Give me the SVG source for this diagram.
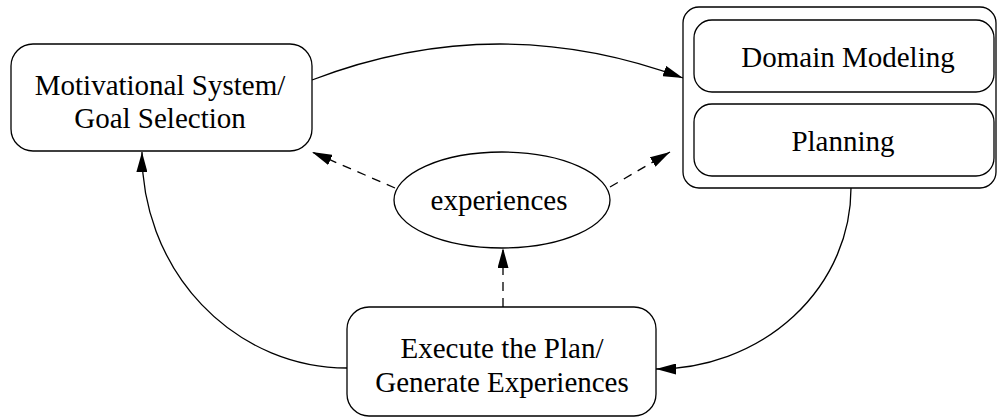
<svg xmlns="http://www.w3.org/2000/svg" width="999" height="419" viewBox="0 0 999 419">
  <style>
    .box { fill: #fff; stroke: #000; stroke-width: 1.3; }
    .lbl { font-family: "Liberation Serif", "Times New Roman", serif; font-size: 29px; fill: #000; text-anchor: middle; }
    .edge { fill: none; stroke: #000; stroke-width: 1.3; }
    .dash { stroke-dasharray: 9 7; }
  </style>
  <defs>
    <marker id="arrow" viewBox="0 0 20 11" refX="20" refY="5.5" markerWidth="20" markerHeight="11" markerUnits="userSpaceOnUse" orient="auto">
      <path d="M0,0 L20,5.5 L0,11 Z" fill="#000"/>
    </marker>
  </defs>

  <g id="connectors">
    <path class="edge" d="M312,80 Q497,9 683,78" marker-end="url(#arrow)"/>
    <path class="edge" d="M851,188 A195,181 0 0 1 656,369" marker-end="url(#arrow)"/>
    <path class="edge" d="M347,368 A205,215 0 0 1 142,152" marker-end="url(#arrow)"/>
    <path class="edge dash" d="M395,188 L312,152" marker-end="url(#arrow)"/>
    <path class="edge dash" d="M610,187 L670,152" marker-end="url(#arrow)"/>
    <path class="edge dash" d="M503,307 L503,248" marker-end="url(#arrow)"/>
  </g>

  <g id="goal-selection">
    <rect class="box" x="11" y="44" width="301" height="107" rx="22" ry="22"/>
    <text class="lbl" x="160" y="95">Motivational System/</text>
    <text class="lbl" x="160" y="128">Goal Selection</text>
  </g>

  <g id="model-and-plan">
    <rect class="box" x="683" y="7" width="313" height="181" rx="16" ry="16"/>
    <g id="domain-modeling">
      <rect class="box" x="694" y="20" width="300" height="72" rx="18" ry="18"/>
      <text class="lbl" x="848" y="67">Domain Modeling</text>
    </g>
    <g id="planning">
      <rect class="box" x="694" y="104" width="300" height="72" rx="18" ry="18"/>
      <text class="lbl" x="843" y="151">Planning</text>
    </g>
  </g>

  <g id="experiences">
    <ellipse class="box" cx="502" cy="200" rx="108" ry="48"/>
    <text class="lbl" x="499" y="210">experiences</text>
  </g>

  <g id="execute-plan">
    <rect class="box" x="347" y="307" width="309" height="109" rx="22" ry="22"/>
    <text class="lbl" x="502" y="358">Execute the Plan/</text>
    <text class="lbl" x="502" y="392">Generate Experiences</text>
  </g>
</svg>
